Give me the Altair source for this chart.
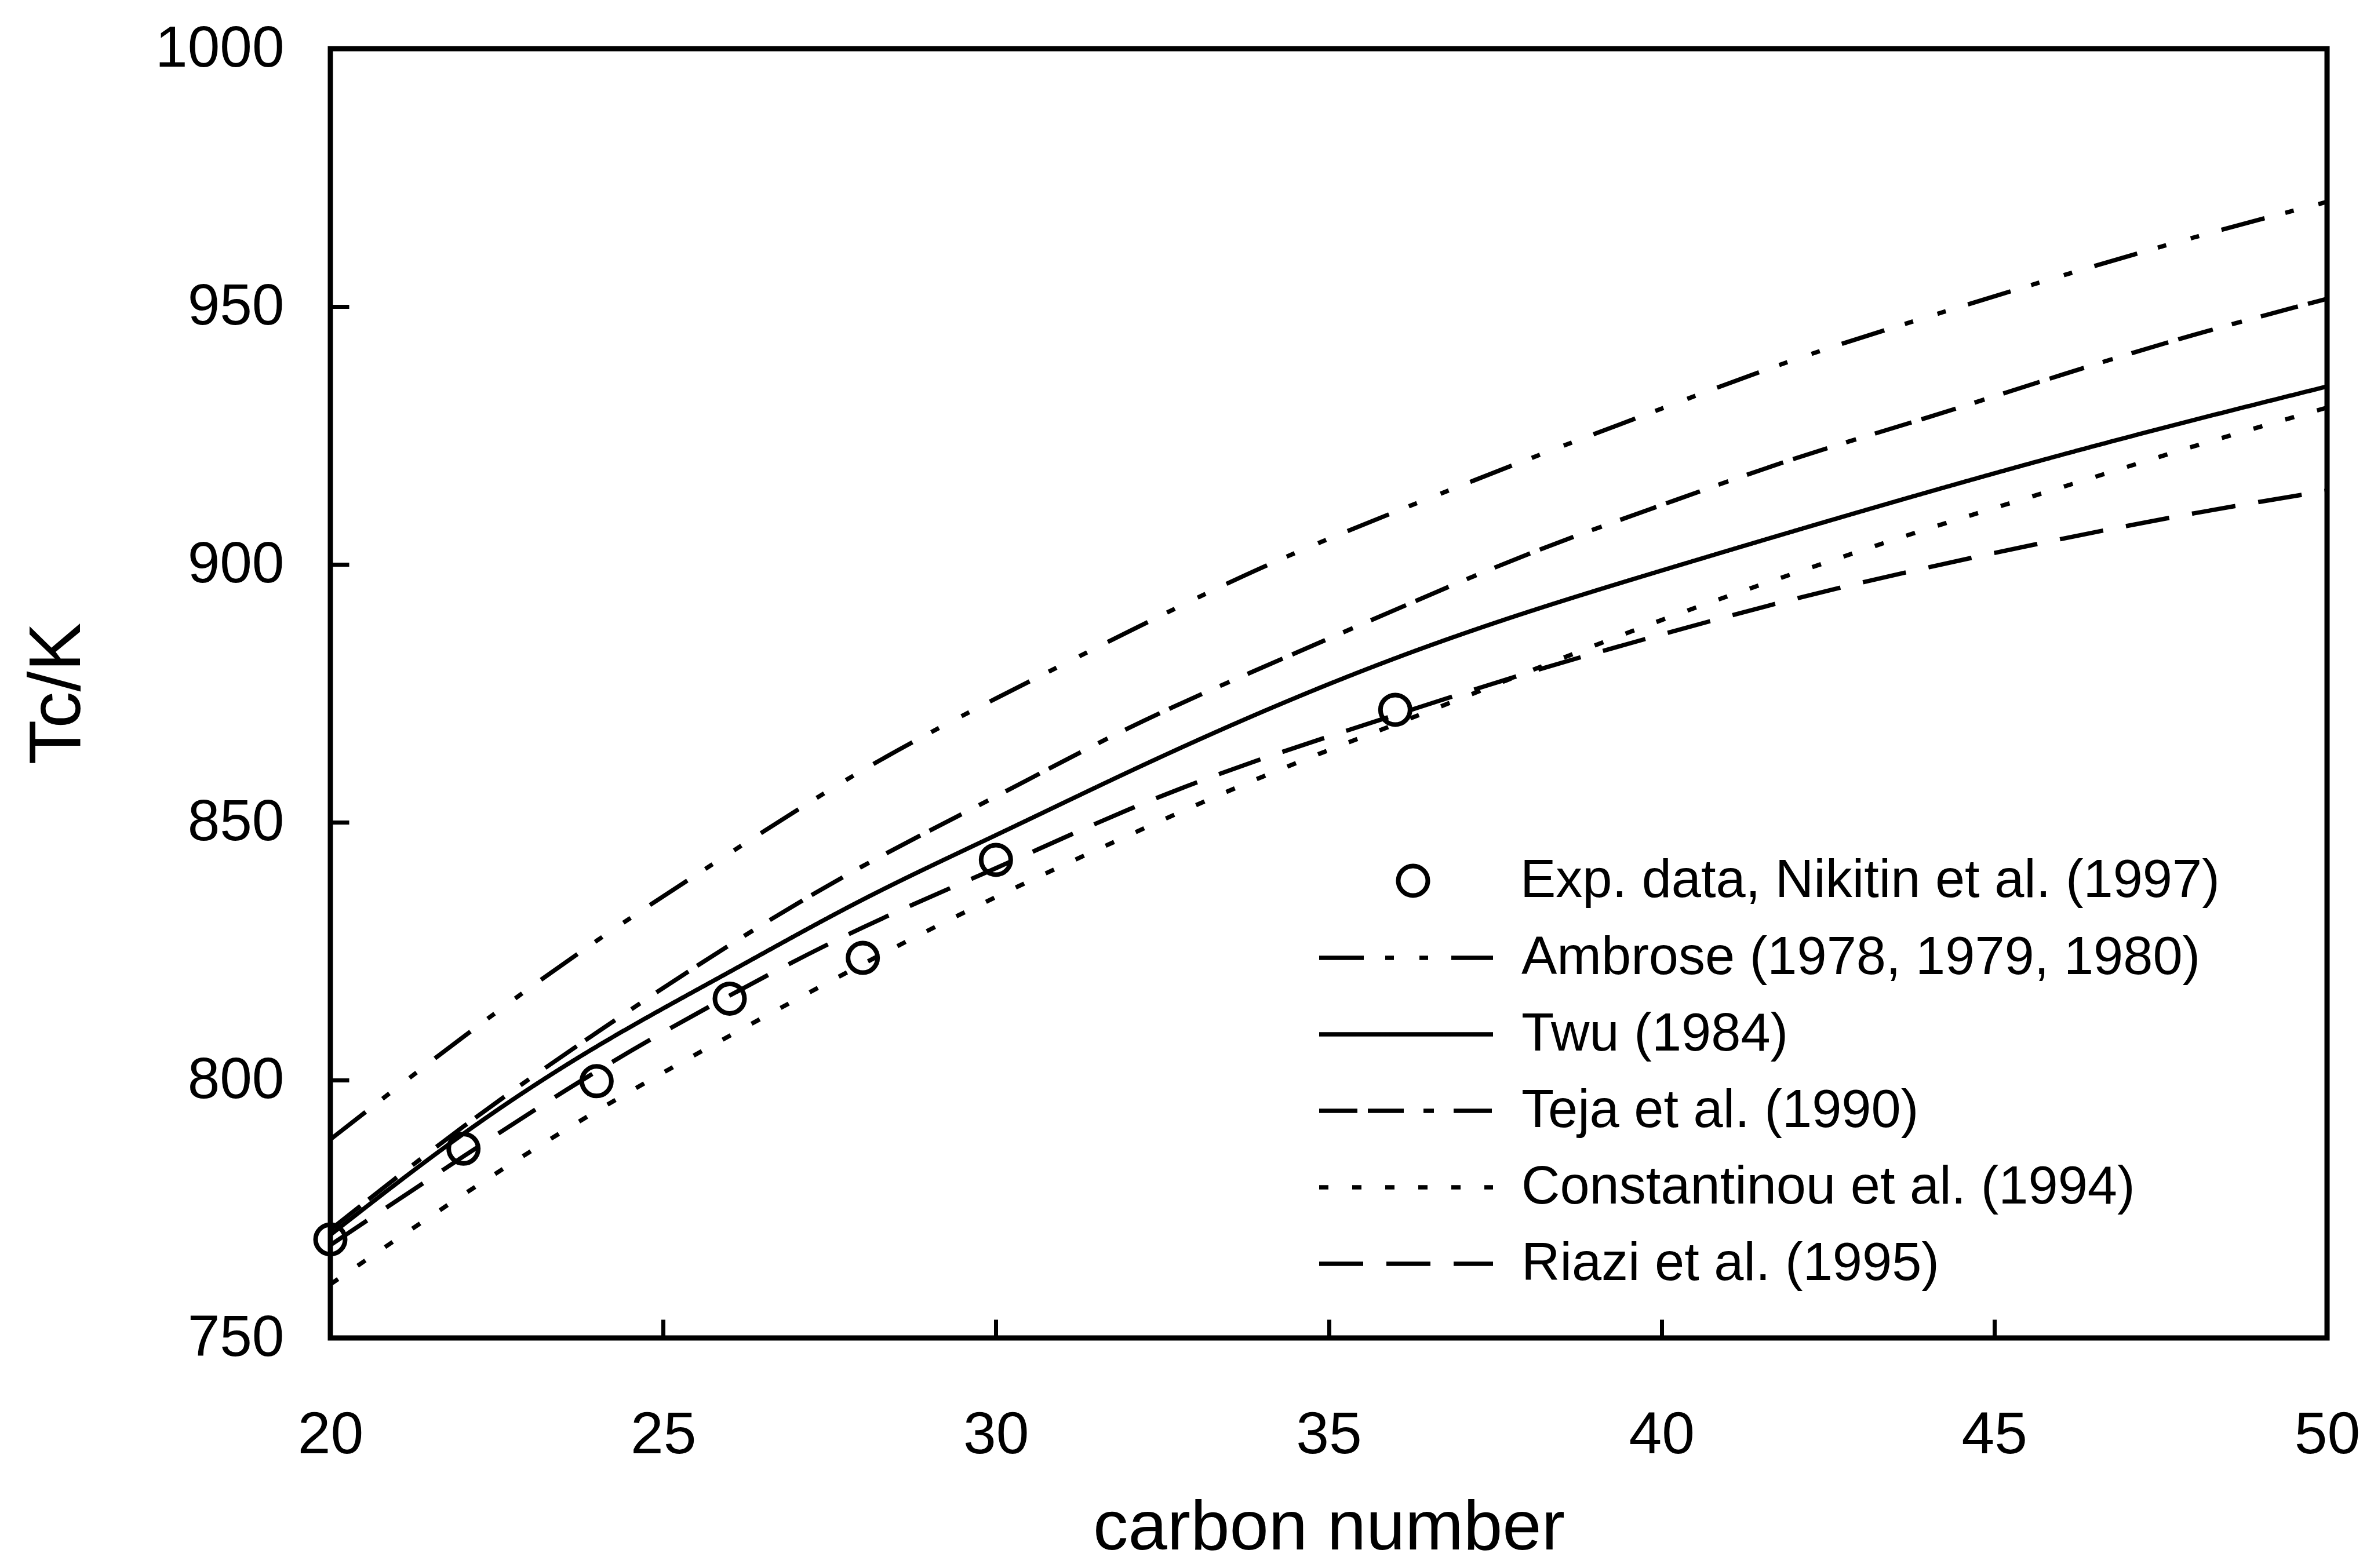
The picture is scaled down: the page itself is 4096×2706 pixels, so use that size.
import altair as alt
import pandas as pd

# ---- data ----
carbon = [20, 22, 24, 26, 28, 30, 32, 34, 36, 38, 40, 42, 44, 46, 48, 50]
ambrose = [788.5, 808.4, 827.0, 844.0, 860.1, 874.0, 887.0, 899.4, 910.2, 920.4, 930.2, 939.7, 948.0, 955.9, 963.4, 970.3]
twu = [770.0, 789.6, 806.5, 821.0, 835.0, 847.5, 859.8, 871.4, 881.8, 890.8, 898.8, 906.5, 914.0, 921.2, 928.0, 934.5]
teja = [771.0, 791.0, 809.2, 826.2, 841.5, 855.0, 868.3, 880.0, 891.2, 902.0, 911.5, 920.5, 928.5, 936.7, 944.5, 951.5]
constantinou = [760.4, 777.8, 794.0, 808.6, 822.5, 835.5, 847.5, 858.8, 869.0, 879.2, 889.2, 898.3, 906.9, 914.9, 922.9, 930.4]
riazi = [768.0, 785.2, 801.7, 816.4, 829.6, 841.1, 852.5, 862.3, 870.8, 879.0, 886.4, 893.3, 899.4, 904.9, 909.9, 914.3]

exp_carbon = [20, 22, 24, 26, 28, 30, 36]
exp_tc = [769.1, 786.7, 799.8, 815.8, 823.7, 842.7, 871.8]

models = ["Ambrose (1978, 1979, 1980)", "Twu (1984)", "Teja et al. (1990)",
          "Constantinou et al. (1994)", "Riazi et al. (1995)"]
exp_label = "Exp. data, Nikitin et al. (1997)"
x_ticks = [20, 25, 30, 35, 40, 45, 50]
y_ticks = [750, 800, 850, 900, 950, 1000]

dashes = [[77, 37, 15, 44, 15, 40], [1, 0], [66, 18, 62, 34, 18, 34], [16, 41], [76, 40]]

rows = []
for name, vals in zip(models, [ambrose, twu, teja, constantinou, riazi]):
    for c, v in zip(carbon, vals):
        rows.append({"c": c, "tc": v, "model": name})
lines_df = pd.DataFrame(rows)
exp_df = pd.DataFrame({"c": exp_carbon, "tc": exp_tc, "src": [exp_label] * len(exp_carbon)})

FONT = "Liberation Sans"
W, H = 3445, 2225
LW = 7.5

x_scale = alt.Scale(domain=[20, 50], nice=False, zero=False)
y_scale = alt.Scale(domain=[750, 1000], nice=False, zero=False)

lines = alt.Chart(lines_df).mark_line(color="black", strokeWidth=LW, interpolate="natural").encode(
    x=alt.X("c:Q", scale=x_scale, axis=alt.Axis(
        orient="bottom", values=x_ticks, format="d", ticks=False, tickSize=0, domain=False, grid=False,
        labelFont=FONT, labelFontSize=102, labelColor="black", labelPadding=117,
        labelFlush=False, labelOverlap=False, labelLimit=1000,
        title="carbon number", titleFont=FONT, titleFontSize=121, titleFontWeight="normal",
        titleColor="black", titleBaseline="alphabetic", titleAlign="center",
        titleX=W / 2, titleY=364, titleLimit=3000)),
    y=alt.Y("tc:Q", scale=y_scale, axis=alt.Axis(
        orient="left", values=y_ticks, format="d", ticks=False, tickSize=0, domain=False, grid=False,
        labelFont=FONT, labelFontSize=100, labelColor="black", labelPadding=80,
        labelFlush=False, labelOverlap=False, labelLimit=1000,
        title="Tc/K", titleFont=FONT, titleFontSize=126, titleFontWeight="normal",
        titleColor="black", titleBaseline="alphabetic", titleAlign="center",
        titleAngle=270, titleX=-433, titleY=H / 2, titleLimit=3000)),
    strokeDash=alt.StrokeDash("model:N", sort=models,
        scale=alt.Scale(domain=models, range=dashes),
        legend=alt.Legend(orient="none", legendX=1702, legendY=1503, title=None,
                          symbolType="stroke", symbolSize=90000, symbolStrokeWidth=LW,
                          symbolStrokeColor="black", labelFont=FONT, labelFontSize=92,
                          labelColor="black", labelOffset=45, labelLimit=3000,
                          clipHeight=132, rowPadding=0, padding=0)),
    order=alt.Order("c:Q"),
)

points = alt.Chart(exp_df).mark_point(shape="circle", filled=False, color="black",
                                      strokeWidth=8, size=2600, opacity=1).encode(
    x=alt.X("c:Q", scale=x_scale, axis=alt.Axis(
        orient="top", offset=-H, values=x_ticks, labels=False, domain=False, grid=False,
        ticks=True, tickSize=32, tickWidth=7, tickColor="black", title="")),
    y=alt.Y("tc:Q", scale=y_scale, axis=alt.Axis(
        orient="right", offset=-W, values=y_ticks, labels=False, domain=False, grid=False,
        ticks=True, tickSize=32, tickWidth=7, tickColor="black", title="")),
    shape=alt.Shape("src:N", scale=alt.Scale(domain=[exp_label], range=["circle"]),
        legend=alt.Legend(orient="none", legendX=1822, legendY=1390, title=None,
                          symbolSize=2600, symbolStrokeWidth=8, symbolStrokeColor="black",
                          symbolFillColor="white", labelFont=FONT, labelFontSize=92,
                          labelColor="black", labelOffset=139, labelLimit=3000, padding=0)),
)

chart = alt.layer(lines, points).resolve_axis(x="independent", y="independent").properties(
    width=W, height=H,
    autosize=alt.AutoSizeParams(type="none"),
    padding={"left": 562, "top": 76, "right": 73, "bottom": 389},
    background="white",
).configure_view(stroke="black", strokeWidth=9)

chart.save("out.html", embed_options={"renderer": "svg", "actions": False})
